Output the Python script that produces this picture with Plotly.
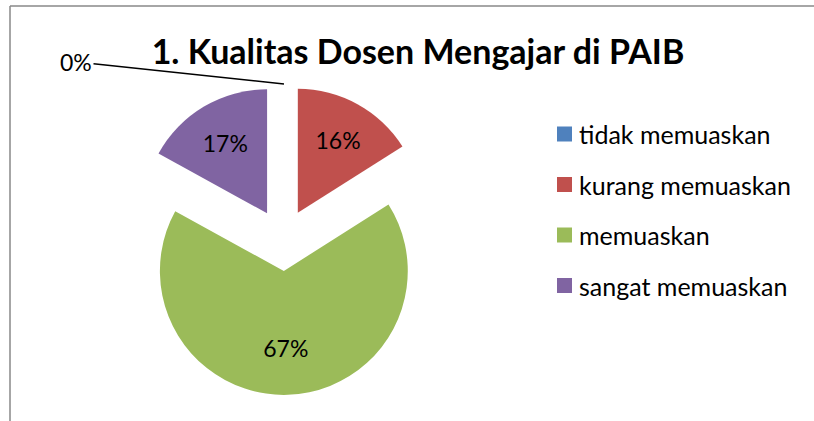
import plotly.graph_objects as go

labels = ['tidak memuaskan', 'kurang memuaskan', 'memuaskan', 'sangat memuaskan']
values = [0, 16, 67, 17]
colors = ['#4F81BD', '#C0504D', '#9BBB59', '#8064A2']
title = '1. Kualitas Dosen Mengajar di PAIB'

FONT = 'Lato'
W, H = 814, 421

# Excel puts the big slice's label further out than plotly does,
# so give it a blank (nbsp) first line to push it down a little
templates = ['%{percent:.0%}', '%{percent:.0%}', '\u00a0<br>%{percent:.0%}', '%{percent:.0%}']

fig = go.Figure(go.Pie(
    labels=labels, values=values,
    marker=dict(colors=colors),
    sort=False, direction='clockwise', rotation=0,
    pull=[0.25] * len(values),
    texttemplate=templates, textposition='inside',
    insidetextorientation='horizontal',
    textfont=dict(family=FONT, size=23, color='black'),
    showlegend=False,
    domain=dict(x=[0.157, 0.538], y=[0.062, 0.798]),
    hoverinfo='label+percent',
))

# zero slice label with leader line
fig.add_annotation(
    x=284 / W, y=1 - 84 / H, xref='paper', yref='paper',
    ax=-208, ay=-22, text=f'{values[0]}%', showarrow=True,
    arrowhead=0, arrowwidth=1.5, arrowcolor='black',
    font=dict(family=FONT, size=23, color='black'),
)

# legend drawn by hand to match the wide row spacing
for i, (lab, col) in enumerate(zip(labels, colors)):
    yc = 1 - (134 + 50.5 * i) / H
    fig.add_shape(type='rect', xref='paper', yref='paper',
                  x0=557 / W, x1=572 / W, y0=yc - 7.5 / H, y1=yc + 7.5 / H,
                  fillcolor=col, line=dict(width=0))
    fig.add_annotation(x=577 / W, y=yc, xref='paper', yref='paper',
                       text=lab, showarrow=False, xanchor='left', yanchor='middle',
                       font=dict(family=FONT, size=25, color='black'))

# chart frame (top and left edges visible)
fig.add_shape(type='line', xref='paper', yref='paper',
              x0=10 / W, x1=1, y0=1 - 6 / H, y1=1 - 6 / H,
              line=dict(color='#888888', width=1.5))
fig.add_shape(type='line', xref='paper', yref='paper',
              x0=10 / W, x1=10 / W, y0=0, y1=1 - 6 / H,
              line=dict(color='#888888', width=1.5))

fig.update_layout(
    width=W, height=H,
    margin=dict(l=0, r=0, t=0, b=0),
    paper_bgcolor='white', plot_bgcolor='white',
    title=dict(text=f'<b>{title}</b>', x=418 / W, xanchor='center',
               y=1 - 52 / H, yanchor='middle',
               font=dict(family=FONT, size=34, color='black')),
)

fig.write_html('out.html', config={'displayModeBar': False},
               post_script='document.body.style.margin = "0";')
